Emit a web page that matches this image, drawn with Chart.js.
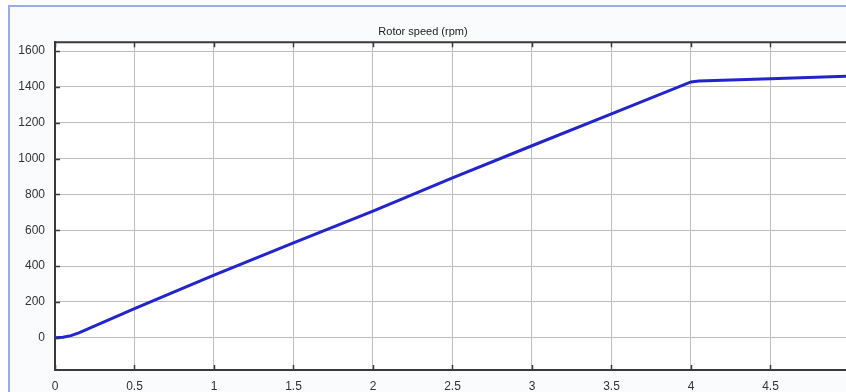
<!DOCTYPE html>
<html>
<head>
<meta charset="utf-8">
<script src="https://cdn.jsdelivr.net/npm/chart.js@4"></script>
<style>
    html, body { margin: 0; padding: 0; background: #ffffff; overflow: hidden; }
    #speedChart { display: block; }
</style>
</head>
<body>
<canvas id="speedChart" width="846" height="392"></canvas>
<script>
// time (s) vs rotor speed (rpm)
const timeS = [0, 0.05, 0.1, 0.15, 0.5, 1, 1.5, 2, 2.5, 3, 3.5, 4, 4.05, 4.5, 5];
const speedRpm = [0, 3, 12, 27, 162, 350, 530, 707, 893, 1072, 1250, 1428, 1433, 1446, 1460];
const xTicks = [0, 0.5, 1, 1.5, 2, 2.5, 3, 3.5, 4, 4.5];
const yTicks = [0, 200, 400, 600, 800, 1000, 1200, 1400, 1600];
const chartTitle = 'Rotor speed (rpm)';

document.addEventListener('DOMContentLoaded', () => {
    const ctx = document.getElementById('speedChart').getContext('2d');

    // window frame + dark plot box and inner tick marks, like the matlab figure
    const framePlugin = {
        id: 'framePlugin',
        beforeDraw(chart) {
            const c = chart.ctx;
            c.save();
            c.fillStyle = '#ffffff';
            c.fillRect(0, 0, chart.width, chart.height);
            c.fillStyle = '#fafbfc';
            c.fillRect(9, 6, chart.width - 9, chart.height - 6);
            c.strokeStyle = '#9aaedb';
            c.lineWidth = 2;
            c.beginPath();
            c.moveTo(9, chart.height);
            c.lineTo(9, 6);
            c.lineTo(chart.width, 6);
            c.stroke();
            c.fillStyle = '#ffffff';
            const a = chart.chartArea;
            c.fillRect(a.left, a.top, a.right - a.left, a.bottom - a.top);
            c.restore();
        },
        afterDatasetsDraw(chart) {
            const c = chart.ctx;
            const a = chart.chartArea;
            const xs = chart.scales.x;
            const ys = chart.scales.y;
            c.save();
            c.strokeStyle = '#3a3a3a';
            c.lineWidth = 2;
            c.beginPath();
            c.moveTo(a.left, a.top);
            c.lineTo(a.right, a.top);
            c.stroke();
            c.lineWidth = 1.5;
            c.beginPath();
            xTicks.forEach(v => {
                const px = Math.round(xs.getPixelForValue(v)) + 0.5;
                c.moveTo(px, a.bottom);
                c.lineTo(px, a.bottom - 5);
                c.moveTo(px, a.top);
                c.lineTo(px, a.top + 5);
            });
            yTicks.forEach(v => {
                const py = Math.round(ys.getPixelForValue(v)) + 0.5;
                c.moveTo(a.left, py);
                c.lineTo(a.left + 5, py);
            });
            c.stroke();
            c.restore();
        }
    };

    const points = timeS.map((t, i) => ({ x: t, y: speedRpm[i] }));
    const plainLabel = value => String(value);

    new Chart(ctx, {
        type: 'scatter',
        data: {
            datasets: [{
                label: 'Rotor speed',
                data: points,
                showLine: true,
                borderColor: '#2424cc',
                backgroundColor: '#2424cc',
                borderWidth: 3,
                pointRadius: 0,
                tension: 0
            }]
        },
        options: {
            responsive: false,
            animation: false,
            layout: { padding: { left: 0, right: 0, top: 0, bottom: 0 } },
            plugins: {
                legend: { display: false },
                tooltip: { enabled: false },
                title: {
                    display: true,
                    text: chartTitle,
                    color: '#222222',
                    font: { family: 'Liberation Sans, Arial, sans-serif', size: 11, weight: 'normal' },
                    padding: { top: 25, bottom: 4 }
                }
            },
            scales: {
                x: {
                    type: 'linear',
                    min: 0,
                    max: 4.975,
                    afterBuildTicks: scale => { scale.ticks = xTicks.map(v => ({ value: v })); },
                    afterFit: scale => { scale.height = 22; },
                    grid: { color: '#bdbdbd', lineWidth: 1, drawTicks: false },
                    border: { color: '#3a3a3a', width: 2 },
                    ticks: {
                        color: '#333333',
                        padding: 9,
                        maxRotation: 0,
                        callback: plainLabel,
                        font: { family: 'Liberation Sans, Arial, sans-serif', size: 12 }
                    }
                },
                y: {
                    type: 'linear',
                    min: -180,
                    max: 1650,
                    afterBuildTicks: scale => { scale.ticks = yTicks.map(v => ({ value: v })); },
                    afterFit: scale => { scale.width = 55; },
                    grid: { color: '#bdbdbd', lineWidth: 1, drawTicks: false },
                    border: { color: '#3a3a3a', width: 2 },
                    ticks: {
                        color: '#333333',
                        padding: 10,
                        callback: plainLabel,
                        font: { family: 'Liberation Sans, Arial, sans-serif', size: 12 }
                    }
                }
            }
        },
        plugins: [framePlugin]
    });
});
</script>
</body>
</html>
